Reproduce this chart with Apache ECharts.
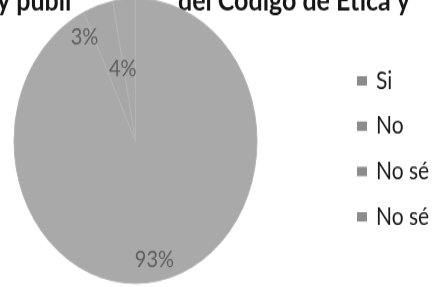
<!DOCTYPE html>
<html>
<head>
<meta charset="utf-8">
<script src="https://cdn.jsdelivr.net/npm/echarts@6/dist/echarts.min.js"></script>
<style>
html,body{margin:0;padding:0;background:#fff;overflow:hidden;}
#wrap{width:438px;height:287px;overflow:hidden;}
#c{width:438px;height:245px;transform:scaleY(1.1714);transform-origin:0 0;}
</style>
</head>
<body>
<div id="wrap"><div id="c"></div></div>
<script>
var categories = ['Si', 'No', 'No sé', 'No sé '];
var values = [93, 4, 3, 0];
var sliceColors = ['#a9a9a9', '#a7a7a7', '#a8a8a8', '#a6a6a6'];
var labelOffsets = [[5, 39], [7, -1], [-45, -25], [0, 0]];
var titleLeft = 'y publi';
var titleRight = 'del Código de Ética y';

var chart = echarts.init(document.getElementById('c'), null, {renderer: 'canvas'});
var data = categories.map(function (name, i) {
  return {
    name: name,
    value: values[i],
    itemStyle: {color: sliceColors[i]},
    label: {show: values[i] > 0, offset: labelOffsets[i]}
  };
});
chart.setOption({
  animation: false,
  backgroundColor: '#ffffff',
  graphic: [
    {type: 'text', z: 0, x: -3, y: 1,
     style: {text: titleLeft, font: 'bold 25px Lato', fill: '#151515', textVerticalAlign: 'middle'}},
    {type: 'text', z: 0, x: 178, y: 1,
     style: {text: titleRight, font: 'bold 25px Lato', fill: '#151515', textVerticalAlign: 'middle'}}
  ],
  legend: {
    orient: 'vertical',
    left: 352,
    top: 53.5,
    itemWidth: 10,
    itemHeight: 8,
    itemGap: 17.7,
    icon: 'rect',
    itemStyle: {color: '#8c8c8c', borderWidth: 0},
    textStyle: {fontFamily: 'Lato', fontSize: 21, color: '#1a1a1a', padding: [0, 0, 0, 4]},
    data: categories
  },
  series: [{
    type: 'pie',
    center: [135.5, 120.4],
    radius: 121.5,
    startAngle: 90,
    clockwise: true,
    silent: true,
    z: 2,
    itemStyle: {borderColor: '#b4b4b4', borderWidth: 1},
    label: {
      position: 'inside',
      formatter: '{d}%',
      fontFamily: 'Lato',
      fontSize: 20,
      color: '#606060'
    },
    labelLine: {show: false},
    data: data
  }]
});
</script>
</body>
</html>
